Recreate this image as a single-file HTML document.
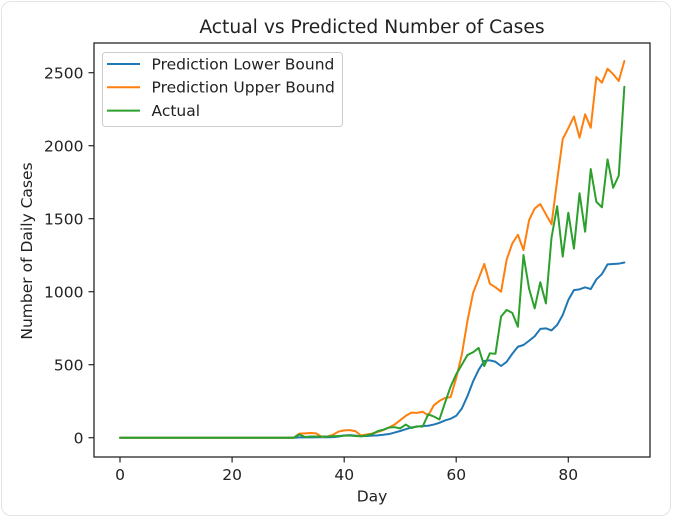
<!DOCTYPE html>
<html>
<head>
<meta charset="utf-8">
<style>
  html,body{margin:0;padding:0;background:#fff;}
  body{width:674px;height:519px;position:relative;overflow:hidden;}
  .frame{position:absolute;left:1px;top:1px;width:670px;height:515px;border:1px solid #e4e4e4;border-radius:10px;box-sizing:border-box;}
  svg{position:absolute;left:0;top:0;}
  text{font-family:"DejaVu Sans","Liberation Sans",sans-serif;fill:#222;}
</style>
</head>
<body>
<div class="frame"></div>
<svg width="674" height="519" viewBox="0 0 674 519" xmlns="http://www.w3.org/2000/svg">
  <!-- title -->
  <text x="372" y="33" font-size="18.7" text-anchor="middle">Actual vs Predicted Number of Cases</text>

  <!-- series -->
  <g transform="translate(120,437.7) scale(5.604,-0.146)" fill="none" stroke-linejoin="round" stroke-linecap="round">
    <polyline vector-effect="non-scaling-stroke" stroke="#1f77b4" stroke-width="2"
      points="0,0 1,0 2,0 3,0 4,0 5,0 6,0 7,0 8,0 9,0 10,0 11,0 12,0 13,0 14,0 15,0 16,0 17,0 18,0 19,0 20,0 21,0 22,0 23,0 24,0 25,0 26,0 27,0 28,0 29,0 30,0 31,0 32,2 33,2 34,2 35,3 36,3 37,3 38,4 39,8 40,15 41,18 42,14 43,10 44,12 45,14 46,16 47,20 48,25 49,35 50,46 51,58 52,70 53,76 54,80 55,82 56,90 57,102 58,118 59,130 60,150 61,200 62,285 63,385 64,465 65,525 66,530 67,520 68,491 69,520 70,575 71,623 72,635 73,664 74,695 75,745 76,749 77,735 78,772 79,840 80,943 81,1011 82,1016 83,1030 84,1018 85,1084 86,1121 87,1187 88,1190 89,1192 90,1200"/>
    <polyline vector-effect="non-scaling-stroke" stroke="#ff7f0e" stroke-width="2"
      points="0,0 1,0 2,0 3,0 4,0 5,0 6,0 7,0 8,0 9,0 10,0 11,0 12,0 13,0 14,0 15,0 16,0 17,0 18,0 19,0 20,0 21,0 22,0 23,0 24,0 25,0 26,0 27,0 28,0 29,0 30,0 31,0 32,28 33,30 34,32 35,30 36,5 37,8 38,20 39,42 40,50 41,52 42,45 43,15 44,22 45,28 46,40 47,52 48,70 49,90 50,120 51,150 52,172 53,170 54,178 55,152 56,222 57,252 58,272 59,278 60,410 61,570 62,800 63,990 64,1090 65,1190 66,1055 67,1030 68,1000 69,1220 70,1330 71,1390 72,1285 73,1490 74,1570 75,1600 76,1530 77,1462 78,1760 79,2045 80,2120 81,2200 82,2055 83,2215 84,2123 85,2470 86,2432 87,2527 88,2490 89,2443 90,2580"/>
    <polyline vector-effect="non-scaling-stroke" stroke="#2ca02c" stroke-width="2"
      points="0,0 1,0 2,0 3,0 4,0 5,0 6,0 7,0 8,0 9,0 10,0 11,0 12,0 13,0 14,0 15,0 16,0 17,0 18,0 19,0 20,0 21,0 22,0 23,0 24,0 25,0 26,0 27,0 28,0 29,0 30,0 31,0 32,22 33,5 34,8 35,8 36,8 37,8 38,10 39,12 40,14 41,15 42,12 43,10 44,15 45,25 46,45 47,55 48,70 49,72 50,64 51,90 52,66 53,78 54,76 55,160 56,145 57,125 58,240 59,350 60,435 61,500 62,566 63,585 64,615 65,490 66,578 67,575 68,830 69,875 70,855 71,760 72,1251 73,1020 74,886 75,1065 76,920 77,1370 78,1585 79,1240 80,1541 81,1295 82,1674 83,1411 84,1840 85,1616 86,1578 87,1906 88,1712 89,1795 90,2404"/>
  </g>

  <!-- axes frame -->
  <rect x="94" y="43" width="556" height="414" fill="none" stroke="#262626" stroke-width="1.3"/>

  <!-- y ticks -->
  <g stroke="#262626" stroke-width="1.2">
    <line x1="88.5" y1="437.7" x2="94" y2="437.7"/>
    <line x1="88.5" y1="364.7" x2="94" y2="364.7"/>
    <line x1="88.5" y1="291.7" x2="94" y2="291.7"/>
    <line x1="88.5" y1="218.7" x2="94" y2="218.7"/>
    <line x1="88.5" y1="145.7" x2="94" y2="145.7"/>
    <line x1="88.5" y1="72.7" x2="94" y2="72.7"/>
  </g>
  <g font-size="15.5" text-anchor="end">
    <text x="83.5" y="443.3">0</text>
    <text x="83.5" y="370.3">500</text>
    <text x="83.5" y="297.3">1000</text>
    <text x="83.5" y="224.3">1500</text>
    <text x="83.5" y="151.3">2000</text>
    <text x="83.5" y="78.3">2500</text>
  </g>

  <!-- x ticks -->
  <g stroke="#262626" stroke-width="1.2">
    <line x1="120" y1="457" x2="120" y2="462.5"/>
    <line x1="232.1" y1="457" x2="232.1" y2="462.5"/>
    <line x1="344.2" y1="457" x2="344.2" y2="462.5"/>
    <line x1="456.2" y1="457" x2="456.2" y2="462.5"/>
    <line x1="568.3" y1="457" x2="568.3" y2="462.5"/>
  </g>
  <g font-size="15.5" text-anchor="middle">
    <text x="120" y="480">0</text>
    <text x="232.1" y="480">20</text>
    <text x="344.2" y="480">40</text>
    <text x="456.2" y="480">60</text>
    <text x="568.3" y="480">80</text>
  </g>

  <!-- axis labels -->
  <text x="372" y="501.5" font-size="15.5" text-anchor="middle">Day</text>
  <text transform="translate(32,251) rotate(-90)" font-size="15.5" text-anchor="middle">Number of Daily Cases</text>

  <!-- legend -->
  <rect x="102.5" y="52.5" width="240" height="74" rx="3" ry="3" fill="#ffffff" fill-opacity="0.85" stroke="#cccccc" stroke-width="1"/>
  <line x1="107" y1="64" x2="140" y2="64" stroke="#1f77b4" stroke-width="2"/>
  <line x1="107" y1="87.3" x2="140" y2="87.3" stroke="#ff7f0e" stroke-width="2"/>
  <line x1="107" y1="110.6" x2="140" y2="110.6" stroke="#2ca02c" stroke-width="2"/>
  <g font-size="15.5">
    <text x="151.5" y="69.3">Prediction Lower Bound</text>
    <text x="151.5" y="92.7">Prediction Upper Bound</text>
    <text x="151.5" y="116">Actual</text>
  </g>
</svg>
</body>
</html>
